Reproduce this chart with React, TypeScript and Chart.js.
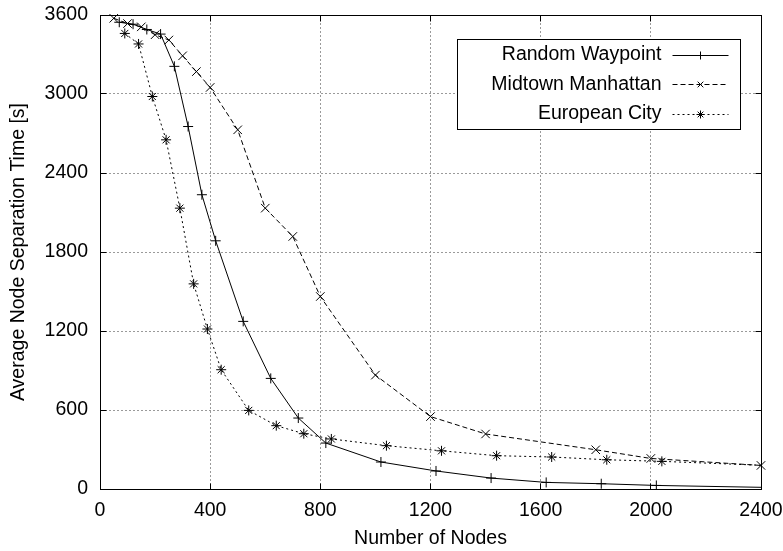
import React, { useEffect, useRef } from 'react';
import { Chart, registerables } from 'chart.js';
import { drawPoint } from 'chart.js/helpers';

Chart.register(...registerables);

const FONT = '"Liberation Sans", Arial, Helvetica, sans-serif';
const FONT_SIZE = 19.5;

const xTickValues = [0, 400, 800, 1200, 1600, 2000, 2400];
const yTickValues = [0, 600, 1200, 1800, 2400, 3000, 3600];

const seriesLabels = ['Random Waypoint', 'Midtown Manhattan', 'European City'];

const rwNodes = [70, 120, 170, 220, 270, 320, 370, 420, 520, 620, 720, 820, 1020, 1220, 1420, 1620, 1820, 2020, 2420];
const rwTime = [3545, 3530, 3490, 3455, 3210, 2753, 2235, 1885, 1273, 840, 539, 349, 205, 137, 83, 50, 40, 27, 12];

const mmNodes = [50, 100, 150, 200, 250, 300, 350, 400, 500, 600, 700, 800, 1000, 1200, 1400, 1800, 2000, 2400];
const mmTime = [3575, 3535, 3510, 3450, 3410, 3290, 3170, 3050, 2728, 2133, 1918, 1462, 865, 550, 418, 298, 232, 179];

const ecNodes = [90, 140, 190, 240, 290, 340, 390, 440, 540, 640, 740, 840, 1040, 1240, 1440, 1640, 1840, 2040, 2440];
const ecTime = [3460, 3380, 2981, 2652, 2133, 1558, 1215, 906, 597, 481, 420, 380, 329, 290, 253, 243, 222, 210, 177];

const toPoints = (xs: number[], ys: number[]) => xs.map((x, i) => ({ x, y: ys[i] }));

const framePlugin = {
  id: 'gpFrame',
  afterDatasetsDraw(chart: any) {
    const { ctx, chartArea: a, scales } = chart;
    const xs = scales.x;
    const ys = scales.y;
    const al = (p: number) => Math.round(p - 0.5) + 0.5;
    ctx.save();
    ctx.strokeStyle = '#000';
    ctx.lineWidth = 1;
    ctx.setLineDash([]);
    const L = al(a.left), R = al(a.right), T = al(a.top), B = al(a.bottom);
    ctx.strokeRect(L, T, R - L, B - T);
    const tl = 6;
    ctx.beginPath();
    xTickValues.forEach((v) => {
      const px = al(xs.getPixelForValue(v));
      ctx.moveTo(px, B); ctx.lineTo(px, B - tl);
      ctx.moveTo(px, T); ctx.lineTo(px, T + tl);
    });
    yTickValues.forEach((v) => {
      const py = al(ys.getPixelForValue(v));
      ctx.moveTo(L, py); ctx.lineTo(L + tl, py);
      ctx.moveTo(R, py); ctx.lineTo(R - tl, py);
    });
    ctx.stroke();
    ctx.restore();
  },
};

const legendPlugin = {
  id: 'gpLegend',
  afterDraw(chart: any) {
    const { ctx, chartArea: a } = chart;
    ctx.save();
    const bx = Math.round(a.right - 304) + 0.5;
    const by = Math.round(a.top + 24) + 0.5;
    const bw = 283;
    const bh = 90;
    ctx.fillStyle = '#fff';
    ctx.fillRect(bx, by, bw, bh);
    ctx.strokeStyle = '#000';
    ctx.lineWidth = 1;
    ctx.setLineDash([]);
    ctx.strokeRect(bx, by, bw, bh);
    ctx.font = `${FONT_SIZE}px ${FONT}`;
    ctx.textAlign = 'right';
    ctx.textBaseline = 'middle';
    chart.data.datasets.forEach((ds: any, i: number) => {
      const y = by + 15 + i * 29.7;
      ctx.fillStyle = '#000';
      ctx.fillText(ds.label, bx + 204, y);
      const ly = Math.round(y) + 0.5;
      ctx.strokeStyle = '#000';
      ctx.lineWidth = 1;
      ctx.setLineDash(ds.borderDash || []);
      ctx.beginPath();
      ctx.moveTo(bx + 215, ly);
      ctx.lineTo(bx + 271, ly);
      ctx.stroke();
      ctx.setLineDash([]);
      ctx.fillStyle = '#000';
      drawPoint(ctx, { pointStyle: ds.pointStyle, rotation: 0, radius: 4, borderWidth: 1 } as any, bx + 243, ly);
    });
    ctx.restore();
  },
};

export default function App() {
  const ref = useRef<HTMLCanvasElement | null>(null);

  useEffect(() => {
    if (!ref.current) return;
    Chart.defaults.font.family = FONT;
    Chart.defaults.font.size = FONT_SIZE;
    Chart.defaults.color = '#000';

    const common = {
      borderColor: '#000',
      borderWidth: 1,
      pointBorderColor: '#000',
      pointBackgroundColor: '#000',
      pointBorderWidth: 1,
      tension: 0,
      fill: false,
    };

    const chart = new Chart(ref.current, {
      type: 'line',
      data: {
        datasets: [
          {
            ...common,
            label: seriesLabels[0],
            data: toPoints(rwNodes, rwTime),
            pointStyle: 'cross',
            pointRadius: 5,
            borderDash: [],
            clip: 0,
          },
          {
            ...common,
            label: seriesLabels[1],
            data: toPoints(mmNodes, mmTime),
            pointStyle: 'crossRot',
            pointRadius: 6,
            borderDash: [5, 3],
            clip: 8,
          },
          {
            ...common,
            label: seriesLabels[2],
            data: toPoints(ecNodes, ecTime),
            pointStyle: 'star',
            pointRadius: 5,
            borderDash: [2, 3],
            clip: 0,
          },
        ] as any,
      },
      options: {
        animation: false,
        responsive: false,
        maintainAspectRatio: false,
        layout: { padding: { left: 0, right: 22, top: 15, bottom: 0 } },
        plugins: {
          legend: { display: false },
          tooltip: { enabled: false },
        },
        scales: {
          x: {
            type: 'linear',
            min: 0,
            max: 2400,
            afterBuildTicks: (s: any) => { s.ticks = xTickValues.map((v) => ({ value: v })); },
            ticks: { padding: 9.5, color: '#000', font: { size: FONT_SIZE }, callback: (v: any) => String(v) },
            grid: { color: '#9a9a9a', lineWidth: 1, drawTicks: false },
            border: { color: '#000', width: 1, dash: [2, 2] },
            title: { display: true, text: 'Number of Nodes', color: '#000', font: { size: FONT_SIZE }, padding: { top: 0, bottom: 1 } },
            afterFit: (s: any) => { s.height = 62; s.paddingLeft = 0; s.paddingRight = 0; },
          },
          y: {
            type: 'linear',
            min: 0,
            max: 3600,
            afterBuildTicks: (s: any) => { s.ticks = yTickValues.map((v) => ({ value: v })); },
            ticks: { padding: 12, color: '#000', font: { size: FONT_SIZE }, callback: (v: any) => String(v) },
            grid: { color: '#9a9a9a', lineWidth: 1, drawTicks: false },
            border: { color: '#000', width: 1, dash: [2, 2] },
            title: { display: true, text: 'Average Node Separation Time [s]', color: '#000', font: { size: FONT_SIZE }, padding: { top: 7.4, bottom: 0 } },
            afterFit: (s: any) => { s.width = 100; s.paddingTop = 0; s.paddingBottom = 0; },
          },
        },
      } as any,
      plugins: [framePlugin, legendPlugin],
    });
    return () => chart.destroy();
  }, []);

  return (
    <canvas
      ref={ref}
      width={783}
      height={551}
      style={{ position: 'absolute', left: 0, top: 0, width: 783, height: 551 }}
    />
  );
}
